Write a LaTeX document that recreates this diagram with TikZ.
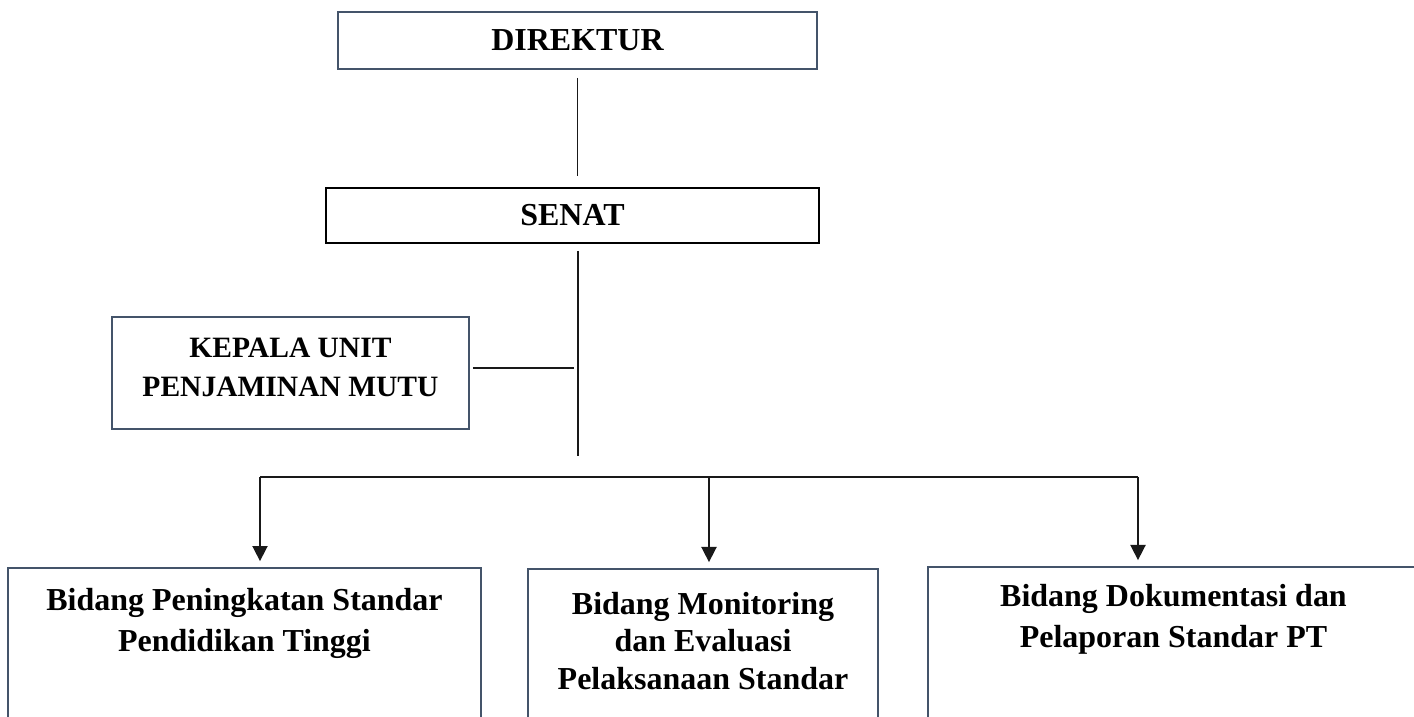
\documentclass[tikz,border=0pt]{standalone}
\usepackage{fontspec}
\setmainfont{Liberation Serif}
\usetikzlibrary{positioning,arrows.meta}
\definecolor{boxgray}{RGB}{68,84,106}
\definecolor{linegray}{RGB}{25,25,25}
\tikzset{
  unit/.style={rectangle,draw=boxgray,line width=0.5pt,inner sep=0pt,font=\fontsize{9.1}{11.7}\selectfont\bfseries,align=center},
  boxtext/.style={inner sep=0pt,font=\fontsize{9.1}{11.9}\selectfont\bfseries,align=center},
  link/.style={draw=linegray,line width=0.45pt},
  down/.style={link,-{Triangle[length=4.3pt,width=4.3pt]},shorten >=0.06cm}
}

\begin{document}
\begin{tikzpicture}
  \useasboundingbox (0,0) rectangle (14.14,-7.17);
  \node[unit,minimum width=4.79cm,minimum height=0.57cm] (direktur) at (5.775,-0.405) {DIREKTUR};
  \node[unit,draw=black,minimum width=4.93cm,minimum height=0.55cm] (senat) at (5.725,-2.155) {SENAT};
  \node[unit,minimum width=3.57cm,minimum height=1.12cm] (kepala) at (2.905,-3.73) {};
  \node[boxtext,font=\fontsize{8.4}{11.1}\selectfont\bfseries] (kepalatxt) at ([yshift=0.055cm]kepala.center) {KEPALA UNIT\\PENJAMINAN MUTU};
  \node[unit,minimum width=4.73cm,minimum height=1.62cm] (bidang1) at (2.445,-6.49) {};
  \node[unit,minimum width=3.50cm,minimum height=1.61cm] (bidang2) at (7.03,-6.495) {};
  \node[unit,minimum width=4.91cm,minimum height=1.63cm] (bidang3) at (11.735,-6.485) {};
  \node[boxtext,below=0.2cm of bidang1.north] (bidang1txt) {Bidang Peningkatan Standar\\Pendidikan Tinggi};
  \node[boxtext,font=\fontsize{9.1}{10.7}\selectfont\bfseries,below=0.23cm of bidang2.north] (bidang2txt) {Bidang Monitoring\\dan Evaluasi\\Pelaksanaan Standar};
  \node[boxtext,below=0.17cm of bidang3.north] (bidang3txt) {Bidang Dokumentasi dan\\Pelaporan Standar PT};
  \coordinate (split) at (5.78,-4.56);
  \coordinate (bus1) at (2.60,-4.77);
  \coordinate (bus2) at (7.09,-4.77);
  \coordinate (bus3) at (11.38,-4.77);
  \draw[link,shorten <=0.08cm,shorten >=0.11cm] (direktur.south) -- (direktur.south |- senat.north);
  \draw[link,shorten <=0.07cm] (split |- senat.south) -- (split);
  \draw[link,shorten <=0.03cm,shorten >=0.04cm] ([yshift=0.05cm]kepala.east) -- ([yshift=0.05cm]kepala.east -| split);
  \draw[link] (bus1) -- (bus3);
  \draw[down] (bus1) -- (bus1 |- bidang1.north);
  \draw[down] (bus2) -- (bus2 |- bidang2.north);
  \draw[down] (bus3) -- (bus3 |- bidang3.north);
\end{tikzpicture}
\end{document}
